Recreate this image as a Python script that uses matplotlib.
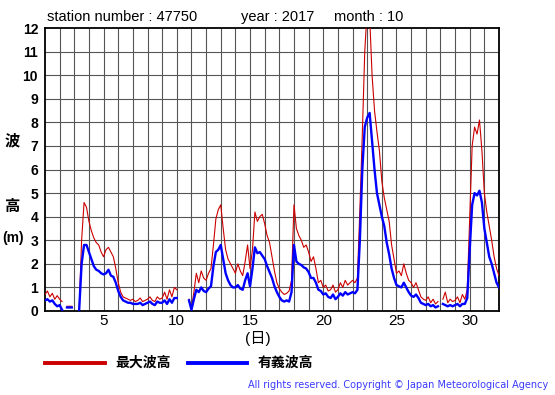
import numpy as np
import matplotlib
matplotlib.use("Agg")
import matplotlib.pyplot as plt

plt.rcParams['font.family'] = ['Liberation Sans', 'Noto Sans CJK JP', 'DejaVu Sans']

# 4-hourly values, day 1 00h .. day 32 00h (nan = missing)
nan = np.nan
max_wave = [
    0.7, 0.85, 0.6, 0.75, 0.5, 0.65,        # 1
    0.5, 0.4, nan, 0.2, 0.2, 0.2,           # 2
    nan, nan, 0.1, 3.0, 4.6, 4.4,           # 3
    3.8, 3.4, 3.1, 2.9, 2.8, 2.5,           # 4
    2.3, 2.6, 2.7, 2.5, 2.3, 1.8,           # 5
    1.2, 0.8, 0.6, 0.55, 0.5, 0.45,         # 6
    0.5, 0.4, 0.45, 0.55, 0.4, 0.45,        # 7
    0.5, 0.6, 0.45, 0.4, 0.6, 0.5,          # 8
    0.55, 0.8, 0.5, 0.9, 0.6, 1.0,          # 9
    0.9, nan, nan, nan, nan, 0.5,           # 10
    0.1, 0.8, 1.6, 1.2, 1.7, 1.4,           # 11
    1.3, 1.6, 1.8, 2.8, 3.9, 4.3,           # 12
    4.5, 3.5, 2.6, 2.2, 2.0, 1.8,           # 13
    1.6, 2.0, 1.7, 1.5, 2.1, 2.8,           # 14
    1.8, 2.6, 4.2, 3.8, 4.0, 4.1,           # 15
    3.7, 3.2, 2.9, 2.3, 1.7, 1.2,           # 16
    0.95, 0.8, 0.7, 0.75, 0.85, 1.3,        # 17
    4.5, 3.5, 3.2, 3.0, 2.7, 2.8,           # 18
    2.5, 2.1, 2.3, 1.8, 1.2, 1.3,           # 19
    1.0, 1.1, 0.85, 0.9, 1.1, 0.8,          # 20
    0.9, 1.2, 1.0, 1.3, 1.1, 1.2,           # 21
    1.3, 1.2, 1.4, 4.3, 7.5, 11.0,          # 22
    12.8, 12.5, 10.0, 8.5, 7.6, 6.8,        # 23
    5.5, 4.8, 4.3, 3.8, 2.8, 2.2,           # 24
    1.6, 1.7, 1.5, 2.0, 1.6, 1.3,           # 25
    1.2, 1.0, 1.2, 0.9, 0.6, 0.5,           # 26
    0.45, 0.6, 0.35, 0.5, 0.3, 0.4,         # 27
    nan, 0.5, 0.8, 0.35, 0.5, 0.4,          # 28
    0.45, 0.6, 0.35, 0.7, 0.5, 0.9,         # 29
    4.0, 7.0, 7.8, 7.5, 8.1, 6.8,           # 30
    5.0, 4.2, 3.6, 3.0, 2.3, 1.8,           # 31
    1.5,
]
sig_wave = [
    0.45, 0.5, 0.4, 0.45, 0.3, 0.2,
    0.25, 0.05, nan, 0.15, 0.15, 0.15,
    nan, nan, 0.05, 2.0, 2.8, 2.8,
    2.5, 2.2, 1.9, 1.75, 1.7, 1.6,
    1.55, 1.6, 1.75, 1.5, 1.45, 1.2,
    0.85, 0.6, 0.45, 0.4, 0.35, 0.35,
    0.3, 0.3, 0.3, 0.35, 0.25, 0.3,
    0.35, 0.4, 0.3, 0.25, 0.4, 0.35,
    0.35, 0.45, 0.3, 0.5, 0.35, 0.55,
    0.55, nan, nan, nan, nan, 0.45,
    0.05, 0.5, 0.9, 0.8, 1.0, 0.85,
    0.8, 0.95, 1.05, 1.9, 2.5, 2.6,
    2.8, 2.2, 1.6, 1.3, 1.1, 1.0,
    1.0, 1.1, 0.95, 0.9, 1.3, 1.6,
    1.05, 1.8, 2.7, 2.45, 2.5, 2.35,
    2.2, 1.9, 1.65, 1.4, 1.05, 0.8,
    0.6, 0.45, 0.4, 0.45, 0.4, 0.8,
    2.8, 2.1, 2.0, 1.95, 1.85, 1.8,
    1.65, 1.4, 1.4, 1.2, 0.9, 0.85,
    0.7, 0.75, 0.6, 0.55, 0.7, 0.5,
    0.6, 0.75, 0.65, 0.8, 0.7, 0.75,
    0.8, 0.75, 0.9, 3.0, 6.0, 7.8,
    8.2, 8.4, 7.2, 6.0, 5.0, 4.5,
    4.0, 3.6, 2.9, 2.4, 1.8, 1.4,
    1.1, 1.05, 1.0, 1.2, 1.0, 0.8,
    0.65, 0.6, 0.7, 0.55, 0.35, 0.3,
    0.25, 0.3, 0.2, 0.25, 0.15, 0.2,
    nan, 0.3, 0.25, 0.2, 0.25, 0.2,
    0.25, 0.3, 0.2, 0.3, 0.3, 0.55,
    2.6, 4.5, 5.0, 4.9, 5.1, 4.6,
    3.5, 2.9, 2.3, 2.0, 1.6, 1.2,
    1.0,
]
days = 1 + np.arange(len(max_wave)) / 6.0

tick_days = [5, 10, 15, 20, 25, 30]

red = '#cc0000'
blue = '#0000ff'

fig = plt.figure(figsize=(5.55, 3.95), dpi=100)
ax = fig.add_axes([45/555, 1-311/395, 454/555, 283/395])

ax.plot(days, max_wave, color=red, lw=0.8, zorder=3)
ax.plot(days, sig_wave, color=blue, lw=1.7, zorder=4)

ax.set_xlim(1, 32)
ax.set_ylim(0, 12)
for d in range(2, 32):
    ax.axvline(d, color='#555555', lw=0.8, zorder=1)
for v in range(1, 12):
    ax.axhline(v, color='#555555', lw=0.8, zorder=1)

ax.set_yticks(range(0, 13))
ax.set_yticklabels([str(v) for v in range(0, 13)], fontsize=10, fontweight='bold')
ax.set_xticks(tick_days)
ax.set_xticklabels([str(d) for d in tick_days], fontsize=11)
ax.tick_params(axis='y', length=0, pad=5)
ax.tick_params(axis='x', length=0, pad=2)
for s in ax.spines.values():
    s.set_linewidth(1.3)

fig.text(47/555, 1-17/395, 'station number : 47750', fontsize=10.5, va='center')
fig.text(241/555, 1-17/395, 'year : 2017', fontsize=10.5, va='center')
fig.text(334/555, 1-17/395, 'month : 10', fontsize=10.5, va='center')

fig.text(258/555, 1-338/395, '(日)', fontsize=11, ha='center', va='center')
fig.text(12/555, 1-141/395, '波', fontsize=11, fontweight='bold', ha='center', va='center')
fig.text(12/555, 1-207/395, '高', fontsize=11, fontweight='bold', ha='center', va='center')
fig.text(13/555, 1-238/395, '(m)', fontsize=10, fontweight='bold', ha='center', va='center')

fig.add_artist(plt.Line2D([45/555, 105/555], [1-363/395]*2, color=red, lw=2.8))
fig.text(115/555, 1-363/395, '最大波高', fontsize=10, fontweight='bold', va='center')
fig.add_artist(plt.Line2D([188/555, 247/555], [1-363/395]*2, color=blue, lw=2.8))
fig.text(258/555, 1-363/395, '有義波高', fontsize=10, fontweight='bold', va='center')

fig.text(548/555, 1-385/395, 'All rights reserved. Copyright \u00a9 Japan Meteorological Agency',
         fontsize=7, color='#3a3aff', ha='right', va='center', family='DejaVu Sans')

fig.savefig('out.png', dpi=100)
